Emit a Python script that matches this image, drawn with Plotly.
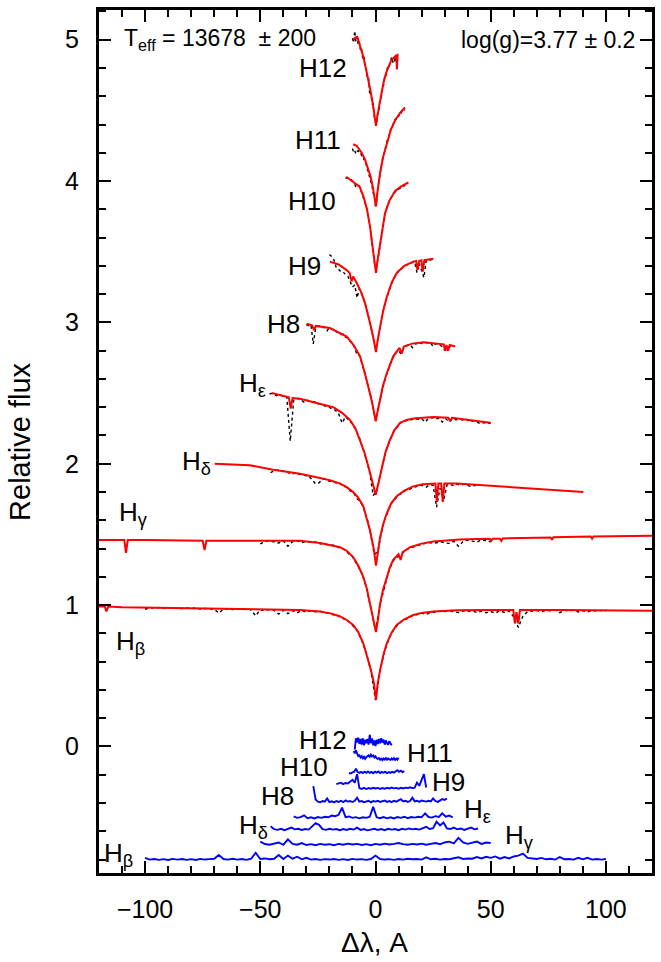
import numpy as np
import plotly.graph_objects as go

# ---------------- model profiles (delta-lambda [A], relative flux incl. vertical shift) -------------
H12_MODEL = [(-9.7, 5.00), (-8.8, 5.015), (-7.9, 5.02), (-6.7, 4.96), (-5.3, 4.88), (-4.2, 4.80),
             (-3.1, 4.72), (-2.2, 4.64), (-1.2, 4.55), (-0.5, 4.47), (0.2, 4.39), (0.8, 4.46),
             (1.7, 4.55), (2.5, 4.62), (3.4, 4.69), (4.5, 4.76), (5.6, 4.81), (6.7, 4.85),
             (7.7, 4.87), (8.6, 4.89), (9.0, 4.89), (9.3, 4.79), (9.6, 4.90)]
H11_MODEL = [(-9.7, 4.26), (-8.2, 4.25), (-6.0, 4.20), (-4.5, 4.15), (-3.1, 4.08), (-2.1, 4.03),
             (-1.2, 3.96), (-0.5, 3.90), (0.2, 3.82), (0.9, 3.93), (2.0, 4.06), (3.3, 4.17),
             (4.9, 4.27), (6.6, 4.36), (8.5, 4.43), (10.6, 4.48), (12.8, 4.52)]
H10_MODEL = [(-12.7, 4.03), (-11.0, 4.01), (-9.0, 3.99), (-6.9, 3.96), (-5.2, 3.89), (-3.7, 3.80),
             (-2.4, 3.68), (-1.1, 3.51), (-0.4, 3.42), (0.2, 3.35), (0.8, 3.43), (1.6, 3.51),
             (2.8, 3.66), (4.1, 3.77), (6.0, 3.86), (8.5, 3.93), (11.0, 3.96), (14.3, 3.99)]
H9_MODEL = [(-19.8, 3.43), (-16.0, 3.41), (-12.5, 3.37), (-11.2, 3.35), (-10.4, 3.29), (-9.7, 3.325),
            (-8.2, 3.28), (-6.4, 3.22), (-4.6, 3.14), (-3.1, 3.05), (-1.7, 2.95), (-0.7, 2.87),
            (0.2, 2.79), (1.0, 2.88), (2.0, 2.97), (3.3, 3.08), (4.9, 3.18), (7.0, 3.28),
            (9.2, 3.35), (12.5, 3.40), (16.4, 3.43), (17.6, 3.435), (18.2, 3.37), (18.9, 3.435),
            (19.9, 3.44), (20.5, 3.36), (21.2, 3.44), (25.1, 3.45)]
H8_MODEL = [(-29.9, 2.99), (-27.5, 2.98), (-26.7, 2.945), (-25.9, 2.975), (-19.8, 2.96), (-12.5, 2.90),
            (-9.5, 2.84), (-6.7, 2.76), (-4.6, 2.64), (-3.1, 2.55), (-1.7, 2.45), (-0.7, 2.37),
            (0.1, 2.30), (0.9, 2.37), (2.0, 2.45), (3.2, 2.55), (4.9, 2.64), (7.7, 2.76),
            (10.4, 2.82), (11.4, 2.78), (12.3, 2.83), (16.0, 2.85), (20.8, 2.86), (29.6, 2.845),
            (30.2, 2.80), (30.8, 2.84), (31.5, 2.80), (32.2, 2.84), (34.6, 2.83)]
HE_MODEL = [(-45.1, 2.50), (-40.0, 2.48), (-37.6, 2.47), (-36.8, 2.39), (-36.0, 2.465), (-32.8, 2.46),
            (-25.0, 2.43), (-18.3, 2.40), (-14.5, 2.36), (-11.1, 2.31), (-8.7, 2.25), (-6.7, 2.17),
            (-4.8, 2.08), (-3.1, 1.98), (-1.6, 1.89), (-0.6, 1.83), (0.1, 1.78), (0.8, 1.83),
            (1.6, 1.89), (2.7, 1.98), (4.3, 2.08), (6.3, 2.17), (8.3, 2.24), (10.7, 2.29),
            (13.5, 2.31), (16.4, 2.32), (25.1, 2.33), (31.6, 2.325), (32.4, 2.30), (33.2, 2.325),
            (39.7, 2.31), (49.8, 2.29)]
HD_MODEL = [(-69.8, 2.00), (-54.6, 1.99), (-45.0, 1.96), (-35.7, 1.94), (-32.8, 1.93), (-24.1, 1.90),
            (-19.0, 1.88), (-15.4, 1.86), (-12.5, 1.835), (-9.7, 1.80), (-7.5, 1.76), (-5.3, 1.70),
            (-3.8, 1.62), (-2.4, 1.53), (-1.4, 1.45), (-0.7, 1.39), (0.2, 1.28), (1.0, 1.38),
            (2.0, 1.48), (3.3, 1.57), (4.9, 1.65), (6.8, 1.72), (9.2, 1.77), (12.5, 1.81),
            (16.4, 1.84), (20.5, 1.855), (25.1, 1.86), (26.0, 1.86), (26.6, 1.73), (27.3, 1.86),
            (28.5, 1.86), (29.2, 1.73), (29.9, 1.86), (35.3, 1.86), (45.0, 1.85), (54.1, 1.84),
            (65.0, 1.83), (78.0, 1.815), (90.2, 1.80)]
HG_MODEL = [(-120, 1.46), (-109, 1.46), (-108.3, 1.37), (-107.5, 1.46), (-100, 1.46), (-90, 1.457),
            (-75, 1.455), (-74.2, 1.39), (-73.4, 1.455), (-60, 1.455), (-45, 1.455), (-32.8, 1.455),
            (-24.1, 1.44), (-19, 1.425), (-15.4, 1.41), (-12.5, 1.385), (-9.7, 1.34), (-7.5, 1.28),
            (-5.3, 1.20), (-3.8, 1.12), (-2.4, 1.01), (-1.4, 0.94), (-0.7, 0.89), (0.2, 0.81),
            (1.0, 0.89), (2.0, 1.01), (3.3, 1.11), (4.9, 1.20), (6.3, 1.27), (7.7, 1.32),
            (10.0, 1.36), (10.9, 1.32), (11.8, 1.375), (15.0, 1.41), (20, 1.435), (25.1, 1.45),
            (36.7, 1.465), (44, 1.468), (49.6, 1.47), (50.2, 1.455), (50.8, 1.47), (54, 1.47),
            (54.6, 1.455), (55.2, 1.472), (65, 1.475), (76, 1.478), (76.6, 1.462), (77.2, 1.48),
            (93.4, 1.485), (94, 1.47), (94.6, 1.486), (105, 1.487), (120, 1.49)]
HB_MODEL = [(-120, 0.99), (-117.5, 0.99), (-116.8, 0.955), (-116, 0.99), (-110, 0.985), (-100, 0.983),
            (-80, 0.978), (-60, 0.974), (-45, 0.97), (-32.8, 0.965), (-24.1, 0.955), (-19, 0.94),
            (-15.4, 0.92), (-12.5, 0.895), (-9.7, 0.86), (-7.5, 0.81), (-5.3, 0.73), (-3.8, 0.65),
            (-2.4, 0.565), (-1.4, 0.50), (-0.7, 0.45), (0.2, 0.33), (1.0, 0.45), (2.0, 0.54),
            (3.3, 0.64), (4.9, 0.73), (6.8, 0.80), (9.2, 0.86), (12.5, 0.90), (16.4, 0.93),
            (20, 0.945), (25.1, 0.955), (35.3, 0.963), (48, 0.966), (59.8, 0.966), (60.5, 0.87),
            (61.2, 0.95), (62.0, 0.87), (62.7, 0.966), (80, 0.965), (100, 0.962), (120, 0.96)]

# ---------------- residuals (model - observed), in units of 0.001, uniform sampling -------------
H12_RES_START, H12_RES_STEP = -10.0, 0.5
H12_RES = [-10, 25, -50, 30, 0, 35, -10, 25, -15, 30, -20, 20, -5, 25, -15, 55, -5, 30, -20, 15,
           -25, 20, -10, 25, -5, 30, 0, 20, -15, 15, -5, -15, 10, -10, -20, 25, 45, 10, 55, 0]
H11_RES_START, H11_RES_STEP = -10.0, 0.5
H11_RES = [30, 55, 40, 60, 35, 20, 25, 10, 20, 5, 15, 0, 12, 18, 25, 15, 30, 18, 25, 10,
           18, 5, 0, 6, -6, 2, -8, 4, -4, 6, -6, 3, -3, -8, 4, -4, 6, -7, 2, -6,
           8, -3, 12, 2, 18, 8]
H10_RES_START, H10_RES_STEP = -13.0, 0.75
H10_RES = [8, 2, -4, -8, 0, 5, 25, 2, -4, 3, -5, 5, -3, 6, -4, 3, -6, 5, -2, 6,
           -5, 3, -3, 5, -6, 2, -4, 4, -2, 8, 15, 4, 12, 2, 8, -2, 5]
H9_RES_START, H9_RES_STEP = -20.0, 1.0
H9_RES = [-50, -40, -20, 30, 35, 40, 30, 38, 35, 45, 60, 40, 100, 2, -4, 3, -5, 2, -3, 4,
          -1, 3, -4, 2, -3, 4, -1, 5, 0, 3, -3, 4, -1, 5, 2, 7, 2, 5, 40, 18,
          60, 100, 6, 0, 6, -4]
H8_RES_START, H8_RES_STEP = -30.0, 1.0
H8_RES = [5, 10, 0, 110, 15, 0, -5, 4, 0, 22, -3, 2, -5, 4, -2, 6, -4, 8, 0, 4,
          -3, 6, 28, 0, 4, -4, 2, 6, -5, 4, 0, 6, -2, 4, 8, -2, 4, -4, 6, 0,
          8, 18, 2, 6, -2, 4, 28, 2, 6, -2, 8, 4, 0, 6, 2, 22, 4, -2, 6, 18,
          12, 22, 0, 6, 0]
HE_RES_START, HE_RES_STEP = -46.0, 1.5
HE_RES = [5, 0, 10, -5, 5, 0, 250, 10, 0, 5, 18, -2, 4, -4, 6, 0, 8, 4, 16, 12,
          22, 72, 5, 10, 0, 5, -3, 4, 0, 8, 78, 4, -2, 6, -3, 4, -4, 6, 0, 8,
          -2, 6, 2, 8, 4, 32, 6, 2, 12, 6, 32, 8, 16, 4, 10, 0, 6, -3, 10, 0,
          6, 15, 4, 10, 0]
HD_RES_START, HD_RES_STEP = -45.5, 1.5
HD_RES = [25, 5, 0, 8, -2, 6, 16, 4, 8, 0, 6, 2, 26, 48, 36, 5, 0, 8, 2, 6,
          -2, 6, 0, 8, 2, 16, 0, 6, -3, 4, 8, 0, 6, -2, 8, 2, 6, -2, 8, 2,
          10, 4, 8, 2, 10, 22, 6, 12, 58, 32, 52, 10, 6, 16, 4, 10, 0, 8, 16, 4,
          10]
HG_RES_START, HG_RES_STEP = -50.0, 2.0
HG_RES = [22, 5, 0, 8, 16, 0, 38, 6, 0, 12, -2, 4, -3, 6, 0, 4, -3, 6, 0, 8,
          2, 6, -2, 4, -3, 6, 0, 8, 2, 6, 12, 4, 0, 6, 2, 8, 0, 6, 12, 4,
          16, 22, 10, 48, 16, 6, 12, 22, 6, 16, 12]
HB_RES_START, HB_RES_STEP = -100.0, 2.0
HB_RES = [12, 0, 4, -2, 3, -3, 5, 0, 4, -2, 3, -3, 5, 0, 3, 6, 32, 4, 0, 6,
          0, 4, -2, 6, 48, 4, 8, 2, 6, 32, 4, 28, 6, 20, 2, 12, 0, 4, -2, 3,
          0, 4, -2, 3, -3, 5, 0, 3, -2, 4, 28, 4, 0, 3, -2, 4, 0, 6, 2, 4,
          0, 16, 2, 6, 0, 4, 2, 8, 16, 4, 8, 6, 18, 8, 20, 12, 22, 6, 18, 8,
          22, 28, 42, 12, 6, 4, 12, 2, 6, 0, 18, 2, 4, 0, 12, 2, 12, 0, 4, 0,
          4]

# vertical offsets of the residual curves and the x-extent over which they are shown
RES_OFFSETS = {"H12": 0.028, "H11": -0.088, "H10": -0.183, "H9": -0.296, "H8": -0.39,
               "He": -0.505, "Hd": -0.59, "Hg": -0.695, "Hb": -0.80}
RES_SHOWN = {"H12": (-9.0, 7.0), "H11": (-9.5, 10.0), "H10": (-11.5, 12.5), "H9": (-17, 22),
             "H8": (-27, 31), "He": (-35.5, 34.5), "Hd": (-45.5, 44.5), "Hg": (-50, 50),
             "Hb": (-100, 100)}

LINES = [
    ("H12", H12_MODEL, H12_RES_START, H12_RES_STEP, H12_RES),
    ("H11", H11_MODEL, H11_RES_START, H11_RES_STEP, H11_RES),
    ("H10", H10_MODEL, H10_RES_START, H10_RES_STEP, H10_RES),
    ("H9", H9_MODEL, H9_RES_START, H9_RES_STEP, H9_RES),
    ("H8", H8_MODEL, H8_RES_START, H8_RES_STEP, H8_RES),
    ("He", HE_MODEL, HE_RES_START, HE_RES_STEP, HE_RES),
    ("Hd", HD_MODEL, HD_RES_START, HD_RES_STEP, HD_RES),
    ("Hg", HG_MODEL, HG_RES_START, HG_RES_STEP, HG_RES),
    ("Hb", HB_MODEL, HB_RES_START, HB_RES_STEP, HB_RES),
]

# labels: (text, x, y, xanchor)
UPPER_LABELS = [("H12", -23.0, 4.80, "center"), ("H11", -24.9, 4.29, "center"),
                ("H10", -27.4, 3.86, "center"), ("H9", -30.7, 3.40, "center"),
                ("H8", -40.0, 2.99, "center"), ("H<sub>ε</sub>", -60.3, 2.56, "left"),
                ("H<sub>δ</sub>", -85.0, 2.01, "left"), ("H<sub>γ</sub>", -112.0, 1.65, "left"),
                ("H<sub>β</sub>", -113.4, 0.735, "left")]
LOWER_LABELS = [("H12", -22.6, 0.046, "center"), ("H11", 23.7, -0.046, "center"),
                ("H10", -31.1, -0.145, "center"), ("H9", 31.7, -0.25, "center"),
                ("H8", -42.6, -0.35, "center"), ("H<sub>ε</sub>", 37.6, -0.45, "left"),
                ("H<sub>δ</sub>", -60.2, -0.565, "left"), ("H<sub>γ</sub>", 55.4, -0.64, "left"),
                ("H<sub>β</sub>", -118.5, -0.763, "left")]

TEFF_TEXT = "T<sub>eff</sub> = 13678\u00a0\u00a0± 200"
LOGG_TEXT = "log(g)=3.77 ± 0.2"

FONT = "Liberation Sans, Arial, Helvetica, sans-serif"

fig = go.Figure()

blue_traces = []
for key, model, r0, dr, rvals in LINES:
    mx = np.array([p[0] for p in model])
    my = np.array([p[1] for p in model])
    rv = np.array(rvals, dtype=float) / 1000.0
    rx = r0 + dr * np.arange(len(rv))
    obs = np.interp(rx, mx, my) - rv
    fig.add_trace(go.Scatter(x=rx, y=obs, mode="lines",
                             line=dict(color="black", width=1.4, dash="dot"),
                             showlegend=False, hoverinfo="skip"))
    fig.add_trace(go.Scatter(x=mx, y=my, mode="lines",
                             line=dict(color="#ff0000", width=2),
                             showlegend=False, hoverinfo="skip"))
    lo, hi = RES_SHOWN[key]
    m = (rx >= lo - 1e-9) & (rx <= hi + 1e-9)
    blue_traces.append(go.Scatter(x=rx[m], y=RES_OFFSETS[key] + rv[m], mode="lines",
                                  line=dict(color="#0000ff", width=1.9),
                                  showlegend=False, hoverinfo="skip"))
for t in blue_traces:
    fig.add_trace(t)

annotations = []
for text, x, y, xa in UPPER_LABELS + LOWER_LABELS:
    annotations.append(dict(x=x, y=y, xref="x", yref="y", text=text, showarrow=False,
                            xanchor=xa, yanchor="middle",
                            font=dict(family=FONT, size=26, color="black")))
annotations.append(dict(x=-110.2, y=5.0, xref="x", yref="y", text=TEFF_TEXT, showarrow=False,
                        xanchor="left", yanchor="middle",
                        font=dict(family=FONT, size=23, color="black")))
annotations.append(dict(x=113.7, y=5.0, xref="x", yref="y", text=LOGG_TEXT, showarrow=False,
                        xanchor="right", yanchor="middle",
                        font=dict(family=FONT, size=23, color="black")))
# axis titles
annotations.append(dict(x=0.499, y=-0.081, xref="paper", yref="paper", text="Δλ, A",
                        showarrow=False, xanchor="center", yanchor="middle",
                        font=dict(family=FONT, size=28, color="black")))
annotations.append(dict(x=-0.143, y=0.4994, xref="paper", yref="paper", text="Relative flux",
                        showarrow=False, xanchor="center", yanchor="middle", textangle=-90,
                        font=dict(family=FONT, size=29, color="black")))

axis_common = dict(showline=True, linecolor="black", linewidth=3, mirror="allticks",
                   ticks="inside", tickcolor="black", tickwidth=2, ticklen=12,
                   showgrid=False, zeroline=False, automargin=False,
                   tickfont=dict(family=FONT, size=25, color="black"))

fig.update_layout(
    width=661, height=962,
    margin=dict(l=99, r=9, t=10, b=89),
    paper_bgcolor="white", plot_bgcolor="white",
    font=dict(family=FONT, color="black"),
    showlegend=False,
    annotations=annotations,
    xaxis=dict(range=[-120, 120], tick0=0, dtick=50, ticklabelstandoff=12,
               minor=dict(ticks="inside", tick0=0, dtick=10, ticklen=7, tickwidth=2,
                          tickcolor="black", showgrid=False),
               **axis_common),
    yaxis=dict(range=[-0.895, 5.21], tick0=0, dtick=1, ticklabelstandoff=12,
               minor=dict(ticks="inside", tick0=0, dtick=0.2, ticklen=7, tickwidth=2,
                          tickcolor="black", showgrid=False),
               **axis_common),
)

fig.write_html("out.html", config={"displayModeBar": False},
               post_script="document.body.style.margin='0px';")
